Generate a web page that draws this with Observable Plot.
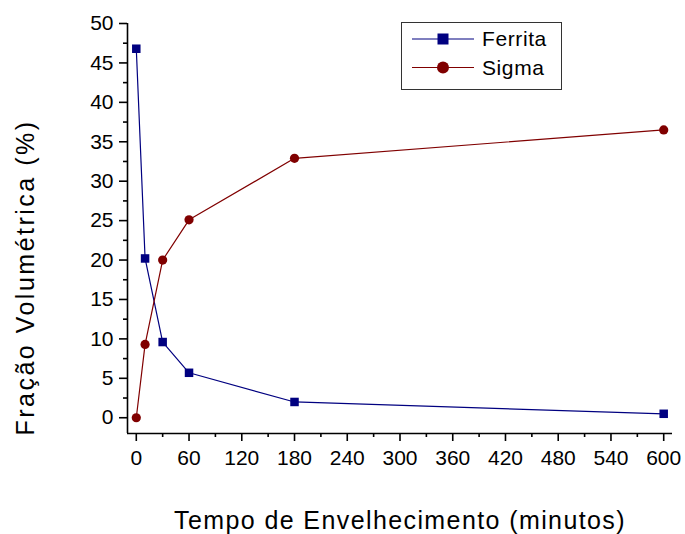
<!DOCTYPE html>
<html>
<head>
<meta charset="utf-8">
<script src="https://cdn.jsdelivr.net/npm/d3@7"></script>
<script src="https://cdn.jsdelivr.net/npm/@observablehq/plot@0.6"></script>
<style>
  body { margin: 0; background: #fff; }
  #chart { position: relative; width: 685px; height: 534px; font-family: Arial, "Liberation Sans", sans-serif; }
  #legend { position: absolute; left: 401px; top: 22px; }
</style>
</head>
<body>
<div id="chart"></div>
<script>
// Aging time (minutes) and volume fraction (%) of each phase
const tempos = [0, 10, 30, 60, 180, 600];
const ferrita = [46.8, 20.2, 9.6, 5.7, 2.0, 0.5];
const sigma = [0.0, 9.3, 20.0, 25.1, 32.9, 36.5];

const fases = ["Ferrita", "Sigma"];
const cores = ["#000080", "#800000"];
const simbolos = ["square", "circle"];

const xTicks = [0, 60, 120, 180, 240, 300, 360, 420, 480, 540, 600];
const xMinor = [30, 90, 150, 210, 270, 330, 390, 450, 510, 570];
const yTicks = [0, 5, 10, 15, 20, 25, 30, 35, 40, 45, 50];
const yMinor = [2.5, 7.5, 12.5, 17.5, 22.5, 27.5, 32.5, 37.5, 42.5, 47.5];

const xTitulo = "Tempo de Envelhecimento (minutos)";
const yTitulo = "Fração Volumétrica (%)";

const linhas = [
  ...tempos.map((t, i) => ({fase: "Ferrita", t, v: ferrita[i]})),
  ...tempos.map((t, i) => ({fase: "Sigma", t, v: sigma[i]}))
];

const axisW = 1.6;

const plot = Plot.plot({
  width: 685,
  height: 534,
  marginLeft: 127,
  marginRight: 13,
  marginTop: 23,
  marginBottom: 101,
  style: {fontFamily: 'Arial, "Liberation Sans", sans-serif', fontSize: "21px", color: "#000", background: "#fff"},
  x: {domain: [-10, 610]},
  y: {domain: [-2, 50]},
  color: {domain: fases, range: cores},
  symbol: {domain: fases, range: simbolos},
  marks: [
    // axis lines (left and bottom only)
    Plot.ruleX([-10], {stroke: "#000", strokeWidth: axisW}),
    Plot.ruleY([-2], {stroke: "#000", strokeWidth: axisW}),
    // major and minor ticks
    Plot.axisX({ticks: xTicks, tickSize: 8, tickPadding: 9, tickFormat: d3.format("d"), label: null, strokeWidth: axisW, fontSize: 21}),
    Plot.axisX({ticks: xMinor, tickSize: 4, tickFormat: () => "", label: null, strokeWidth: axisW}),
    Plot.axisY({ticks: yTicks, tickSize: 8, tickPadding: 6, tickFormat: d3.format("d"), label: null, strokeWidth: axisW, fontSize: 21}),
    Plot.axisY({ticks: yMinor, tickSize: 4, tickFormat: () => "", label: null, strokeWidth: axisW}),
    // series
    Plot.line(linhas, {x: "t", y: "v", z: "fase", stroke: "fase", strokeWidth: 1.2}),
    Plot.dot(linhas.filter(d => d.fase === "Ferrita"), {x: "t", y: "v", symbol: "fase", fill: "fase", r: 4.8, stroke: "none"}),
    Plot.dot(linhas.filter(d => d.fase === "Sigma"), {x: "t", y: "v", symbol: "fase", fill: "fase", r: 4.6, stroke: "none"}),
    // axis titles
    Plot.text([xTitulo], {text: d => d, frameAnchor: "bottom", textAnchor: "middle", lineAnchor: "middle", dy: 87, fontSize: 25, fill: "#000"}),
    Plot.text([yTitulo], {text: d => d, frameAnchor: "left", textAnchor: "middle", lineAnchor: "middle", rotate: -90, dx: -102, dy: 49, fontSize: 25, fill: "#000"})
  ]
});

// wider letter spacing on the axis titles
plot.querySelectorAll("text").forEach(t => {
  if (t.textContent === xTitulo) t.setAttribute("letter-spacing", "1.4");
  if (t.textContent === yTitulo) t.setAttribute("letter-spacing", "2.5");
});

const chart = document.getElementById("chart");
chart.appendChild(plot);

// legend box inside the plot area
const leg = d3.select(chart).append("div").attr("id", "legend")
  .append("svg").attr("width", 161).attr("height", 68);
leg.append("rect").attr("x", 0.5).attr("y", 0.5).attr("width", 160).attr("height", 67)
  .attr("fill", "#fff").attr("stroke", "#333").attr("stroke-width", 1);
fases.forEach((f, i) => {
  const y = 17 + i * 28.5;
  const g = leg.append("g");
  g.append("line").attr("x1", 11).attr("x2", 73).attr("y1", y).attr("y2", y)
    .attr("stroke", cores[i]).attr("stroke-width", 1.2);
  if (simbolos[i] === "square") {
    g.append("rect").attr("x", 42 - 5.5).attr("y", y - 5.5).attr("width", 11).attr("height", 11).attr("fill", cores[i]);
  } else {
    g.append("circle").attr("cx", 42).attr("cy", y).attr("r", 6).attr("fill", cores[i]);
  }
  g.append("text").attr("x", 81).attr("y", y).attr("dy", "0.35em")
    .attr("font-size", 21).attr("letter-spacing", "0.6")
    .attr("font-family", 'Arial, "Liberation Sans", sans-serif').text(f);
});
</script>
</body>
</html>
